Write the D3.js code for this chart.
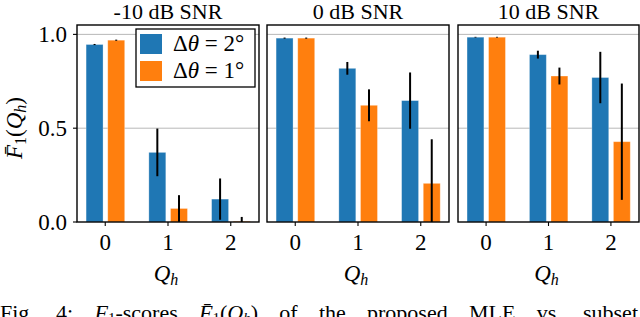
<!DOCTYPE html>
<html><head><meta charset="utf-8">
<script src="https://cdn.jsdelivr.net/npm/d3@7/dist/d3.min.js"></script>
</head><body style="margin:0"><svg id="c" width="640" height="317"></svg>
<script>
const categories = [0, 1, 2];
const panelTitles = ["-10 dB SNR", "0 dB SNR", "10 dB SNR"];
const seriesNames = ["Δθ = 2°", "Δθ = 1°"];
const yTicks = [0.0, 0.5, 1.0];
const yTickLabels = ["0.0", "0.5", "1.0"];
// mean F1 scores and std (error bars), per panel
const d2Mean = [[0.946, 0.371, 0.122], [0.980, 0.819, 0.647], [0.985, 0.892, 0.770]];
const d2Err  = [[0.003, 0.127, 0.110], [0.003, 0.034, 0.150], [0.002, 0.021, 0.137]];
const d1Mean = [[0.969, 0.072, 0.004], [0.980, 0.622, 0.206], [0.985, 0.778, 0.428]];
const d1Err  = [[0.003, 0.071, 0.023], [0.003, 0.085, 0.235], [0.002, 0.045, 0.310]];
const colors = ["#1f77b4", "#ff7f0e"];

const svg = d3.select("#c");
const panelX = [[77, 259], [267, 449], [458, 639]];
const plotTop = 25, plotBottom = 222;
const y = d3.scaleLinear().domain([0, 1.05]).range([plotBottom, plotTop]).clamp(true);
const offsets = [-0.17, 0.175], bw = 0.27;
const addText = (x0, y0, size, str) => svg.append("text").attr("x", x0).attr("y", y0)
  .attr("font-size", size).style("font-family", '"Liberation Serif"').text(str);

panelTitles.forEach((title, p) => {
  const x = d3.scaleLinear().domain([-0.45, 2.45]).range(panelX[p]);
  svg.append("g").selectAll("line").data(yTicks.slice(1)).enter().append("line")
    .attr("x1", panelX[p][0]).attr("x2", panelX[p][1])
    .attr("y1", d => y(d)).attr("y2", d => y(d))
    .attr("stroke", "#b0b0b0").attr("stroke-width", 0.9);
  [d2Mean, d1Mean].forEach((means, s) => {
    const errs = s === 0 ? d2Err : d1Err;
    svg.append("g").selectAll("rect").data(categories).enter().append("rect")
      .attr("x", c => x(c + offsets[s] - bw / 2))
      .attr("width", x(bw) - x(0))
      .attr("y", c => y(means[p][c]))
      .attr("height", c => y(0) - y(means[p][c]))
      .attr("fill", colors[s])
      .attr("stroke", "rgba(255,255,255,0.35)").attr("stroke-width", 0.8);
    svg.append("g").selectAll("line").data(categories).enter().append("line")
      .attr("x1", c => x(c + offsets[s])).attr("x2", c => x(c + offsets[s]))
      .attr("y1", c => y(means[p][c] - errs[p][c]))
      .attr("y2", c => y(means[p][c] + errs[p][c]))
      .attr("stroke", "#000").attr("stroke-width", 2);
  });
  svg.append("rect").attr("x", panelX[p][0]).attr("y", plotTop)
    .attr("width", panelX[p][1] - panelX[p][0]).attr("height", plotBottom - plotTop)
    .attr("fill", "none").attr("stroke", "#000").attr("stroke-width", 1.4);
  // x ticks + labels
  categories.forEach(c => {
    svg.append("line").attr("x1", x(c)).attr("x2", x(c)).attr("y1", plotBottom).attr("y2", plotBottom + 4)
      .attr("stroke", "#000").attr("stroke-width", 1.1);
    addText(x(c), 250, 23, String(c)).attr("text-anchor", "middle");
  });
  addText((panelX[p][0] + panelX[p][1]) / 2, 19, 22, title).attr("text-anchor", "middle");
  const xl = addText((panelX[p][0] + panelX[p][1]) / 2 - 2, 281, 23, null).attr("text-anchor", "middle");
  xl.append("tspan").attr("font-style", "italic").text("Q");
  xl.append("tspan").attr("font-style", "italic").attr("font-size", 16).attr("dy", 4).text("h");
  if (p === 0) {
    yTicks.forEach((v, i) => {
      svg.append("line").attr("x1", panelX[0][0] - 4).attr("x2", panelX[0][0]).attr("y1", y(v)).attr("y2", y(v))
        .attr("stroke", "#000").attr("stroke-width", 1.1);
      addText(panelX[0][0] - 10, y(v) + 8, 23, yTickLabels[i]).attr("text-anchor", "end");
    });
  }
});

const yl = addText(0, 0, 23, null).attr("transform", "translate(22,128) rotate(-90)").attr("text-anchor", "middle");
yl.append("tspan").attr("font-style", "italic").text("F\u0304");
yl.append("tspan").attr("font-size", 16).attr("dy", 4).text("1");
yl.append("tspan").attr("dy", -4).text("(");
yl.append("tspan").attr("font-style", "italic").text("Q");
yl.append("tspan").attr("font-style", "italic").attr("font-size", 16).attr("dy", 4).text("h");
yl.append("tspan").attr("dy", -4).text(")");

svg.append("rect").attr("x", 136).attr("y", 29).attr("width", 119).attr("height", 58)
  .attr("fill", "#fff").attr("stroke", "#000").attr("stroke-width", 1.3);
seriesNames.forEach((name, i) => {
  const yy = 34 + i * 27;
  svg.append("rect").attr("x", 140).attr("y", yy).attr("width", 22).attr("height", 20).attr("fill", colors[i]);
  const t = addText(173, yy + 17, 23, null);
  t.append("tspan").text("Δ");
  t.append("tspan").attr("font-style", "italic").text("θ");
  t.append("tspan").text(" = " + name.split("= ")[1]);
});

const cap = addText(0, 320, 22, null);
cap.append("tspan").text("Fig. 4: ");
cap.append("tspan").attr("font-style", "italic").text("F");
cap.append("tspan").attr("font-size", 15).attr("dy", 3).text("1");
cap.append("tspan").attr("dy", -3).text("-scores ");
cap.append("tspan").attr("font-style", "italic").text("F\u0304");
cap.append("tspan").attr("font-size", 15).attr("dy", 3).text("1");
cap.append("tspan").attr("dy", -3).text("(");
cap.append("tspan").attr("font-style", "italic").text("Q");
cap.append("tspan").attr("font-style", "italic").attr("font-size", 15).attr("dy", 3).text("h");
cap.append("tspan").attr("dy", -3).text(") of the proposed MLE vs. subset");
const w = cap.node().getComputedTextLength();
cap.style("word-spacing", Math.max(0, (638 - w) / 9) + "px");
</script></body></html>
